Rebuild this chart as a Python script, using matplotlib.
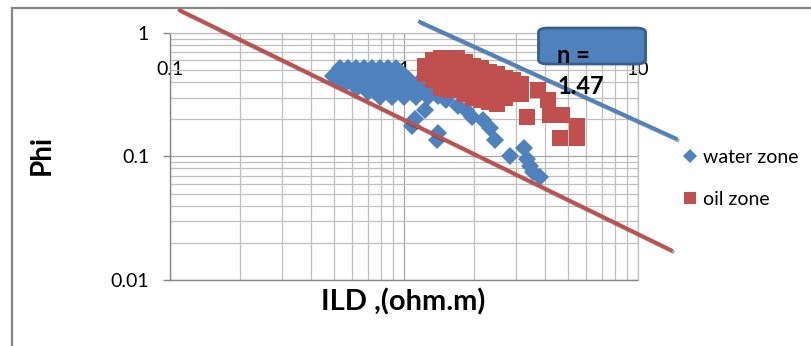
import matplotlib
matplotlib.use("Agg")
import matplotlib.pyplot as plt
import matplotlib.patheffects as pe
from matplotlib.lines import Line2D
from matplotlib.patches import FancyBboxPatch
from matplotlib.ticker import FixedLocator, NullFormatter, LogLocator

plt.rcParams['font.family'] = ['Lato', 'DejaVu Sans']

BLUE = "#4F81BD"
RED = "#C0504D"
GRID = "#BFBFBF"
AXIS = "#868686"

# water zone points (ILD, Phi)
water_ild = [
    0.533, 0.577, 0.623, 0.675, 0.730, 0.790, 0.854, 0.924,
    0.556, 0.600, 0.649, 0.702, 0.759, 0.821, 0.889, 0.961,
    0.497, 0.538, 0.582, 0.629, 0.681, 0.737, 0.797, 0.863, 0.933, 1.01,
    0.517, 0.560, 0.605, 0.655, 0.709, 0.767, 0.829, 0.898, 0.971, 1.05,
    0.560, 0.605, 0.655, 0.709, 0.767, 0.829, 0.898, 0.971, 1.05, 1.14,
    0.629, 0.681, 0.737, 0.797, 0.863, 0.933, 1.01, 1.09, 1.18,
    0.702, 0.759, 0.821, 0.889, 0.961, 1.04, 1.13, 1.22,
    0.790, 0.889, 1.00, 1.13, 1.27,
    1.29, 1.40, 1.51, 1.70, 1.84, 1.95, 1.23, 1.11, 1.08, 1.40, 1.38,
    2.18, 2.33, 2.45, 2.84, 3.26, 3.35, 3.46, 3.56, 3.81,
]
water_phi = [
    0.522, 0.522, 0.522, 0.522, 0.522, 0.522, 0.522, 0.522,
    0.485, 0.485, 0.485, 0.485, 0.485, 0.485, 0.485, 0.485,
    0.450, 0.450, 0.450, 0.450, 0.450, 0.450, 0.450, 0.450, 0.450, 0.450,
    0.418, 0.418, 0.418, 0.418, 0.418, 0.418, 0.418, 0.418, 0.418, 0.418,
    0.388, 0.388, 0.388, 0.388, 0.388, 0.388, 0.388, 0.388, 0.388, 0.388,
    0.360, 0.360, 0.360, 0.360, 0.360, 0.360, 0.360, 0.360, 0.360,
    0.334, 0.334, 0.334, 0.334, 0.334, 0.334, 0.334, 0.334,
    0.305, 0.305, 0.305, 0.305, 0.305,
    0.347, 0.310, 0.288, 0.258, 0.239, 0.210, 0.239, 0.202, 0.175, 0.156, 0.137,
    0.199, 0.171, 0.135, 0.100, 0.118, 0.0946, 0.083, 0.0743, 0.068,
]

# oil zone points (ILD, Phi)
oil_ild = [
    1.23, 1.23, 1.33, 1.33, 1.33, 1.44, 1.44, 1.44, 1.44,
    1.56, 1.56, 1.56, 1.56, 1.69, 1.69, 1.69, 1.69,
    1.82, 1.82, 1.82, 1.82, 1.97, 1.97, 1.97, 1.97,
    2.13, 2.13, 2.13, 2.13, 2.31, 2.31, 2.31, 2.31,
    2.50, 2.50, 2.50, 2.50, 2.70, 2.70, 2.70, 2.92, 2.92, 3.16, 3.16,
    3.74, 4.13, 3.35, 4.21, 4.73, 5.49, 4.64, 5.49,
]
oil_phi = [
    0.542, 0.467, 0.606, 0.503, 0.418, 0.629, 0.522, 0.434, 0.360,
    0.629, 0.522, 0.434, 0.347, 0.629, 0.522, 0.434, 0.347,
    0.584, 0.485, 0.403, 0.322, 0.542, 0.450, 0.374, 0.299,
    0.522, 0.434, 0.360, 0.288, 0.485, 0.403, 0.334, 0.278,
    0.467, 0.388, 0.322, 0.268, 0.434, 0.360, 0.299, 0.418, 0.347, 0.388, 0.322,
    0.347, 0.288, 0.210, 0.218, 0.218, 0.175, 0.142, 0.142,
]

# hand drawn bounding lines
lower_line_ild = [0.110, 13.8]
lower_line_phi = [1.53, 0.0175]
upper_line_ild = [1.17, 14.5]
upper_line_phi = [1.23, 0.140]

x_ticks = [0.1, 1, 10]
x_tick_labels = ["0.1", "1", "10"]
y_ticks = [0.01, 0.1, 1]
y_tick_labels = ["0.01", "0.1", "1"]
n_label = "n ="
n_value = "1.47"

fig = plt.figure(figsize=(8.11, 3.46), dpi=100)
ax = fig.add_axes([0.2096, 0.1908, 0.5771, 0.7139])
ax.set_xscale("log")
ax.set_yscale("log")
ax.set_xlim(x_ticks[0], x_ticks[-1])
ax.set_ylim(y_ticks[0], y_ticks[-1])

ax.plot(water_ild, water_phi, linestyle="none", marker="D", markersize=9.5,
        color=BLUE, markeredgewidth=0, label="water zone", zorder=3)
ax.plot(oil_ild, oil_phi, linestyle="none", marker="s", markersize=12,
        color=RED, markeredgewidth=0, label="oil zone", zorder=4)

shadow = [pe.SimpleLineShadow(offset=(1.2, -1.2), alpha=0.35),
          pe.Normal()]
ax.plot(lower_line_ild, lower_line_phi, color=RED, lw=2.7,
        clip_on=False, zorder=5, path_effects=shadow)
ax.plot(upper_line_ild, upper_line_phi, color=BLUE, lw=2.7,
        clip_on=False, zorder=5, path_effects=shadow)

# grid
ax.xaxis.set_major_locator(FixedLocator(x_ticks))
ax.yaxis.set_major_locator(FixedLocator(y_ticks))
ax.xaxis.set_minor_locator(LogLocator(base=10, subs=range(2, 10)))
ax.yaxis.set_minor_locator(LogLocator(base=10, subs=range(2, 10)))
ax.xaxis.set_minor_formatter(NullFormatter())
ax.yaxis.set_minor_formatter(NullFormatter())
ax.set_xticklabels(x_tick_labels)
ax.set_yticklabels(y_tick_labels)
ax.grid(True, which="major", color="#A6A6A6", lw=0.9)
ax.grid(True, which="minor", color=GRID, lw=0.9)
ax.set_axisbelow(True)

for side in ["top", "right"]:
    ax.spines[side].set_color(GRID)
    ax.spines[side].set_linewidth(0.9)
ax.spines["left"].set_color(AXIS)
ax.spines["left"].set_linewidth(1.0)
ax.spines["bottom"].set_position(("data", 0.62))
ax.spines["bottom"].set_visible(False)
ax.axhline(y_ticks[0], color=AXIS, lw=1.0, clip_on=False, zorder=1)

ax.tick_params(axis="x", which="both", length=0, pad=2, labelsize=14)
ax.tick_params(axis="y", which="major", length=5, width=1, color=AXIS,
               pad=10, labelsize=14)
ax.tick_params(axis="y", which="minor", length=0)

ax.legend(loc="center left", bbox_to_anchor=(1.097, 0.412), frameon=False,
          fontsize=14, handlelength=0.7, handletextpad=0.3, markerscale=0.75,
          labelspacing=1.3, borderpad=0, borderaxespad=0)

fig.text(0.051, 0.553, "Phi", rotation=90, ha="center", va="center",
         fontsize=20, fontweight="bold")
fig.text(0.497, 0.127, "ILD ,(ohm.m)", ha="center", va="center",
         fontsize=21, fontweight="bold")

# n text box
box = FancyBboxPatch((0.664, 0.815), 0.132, 0.104,
                     boxstyle="round,pad=0,rounding_size=0.012",
                     transform=fig.transFigure, facecolor=BLUE,
                     edgecolor="#385D8A", lw=2, zorder=10)
fig.patches.append(box)
fig.text(0.687, 0.841, n_label, ha="left", va="center", fontsize=17,
         fontweight="bold", zorder=11)
fig.text(0.687, 0.751, n_value, ha="left", va="center", fontsize=17,
         fontweight="bold", zorder=11)

# chart area border
fig.add_artist(Line2D([0.015, 1.0], [0.977, 0.977], color=AXIS, lw=1.6))
fig.add_artist(Line2D([0.015, 0.015], [0.0, 0.977], color=AXIS, lw=1.6))

fig.savefig("out.png", dpi=100)
